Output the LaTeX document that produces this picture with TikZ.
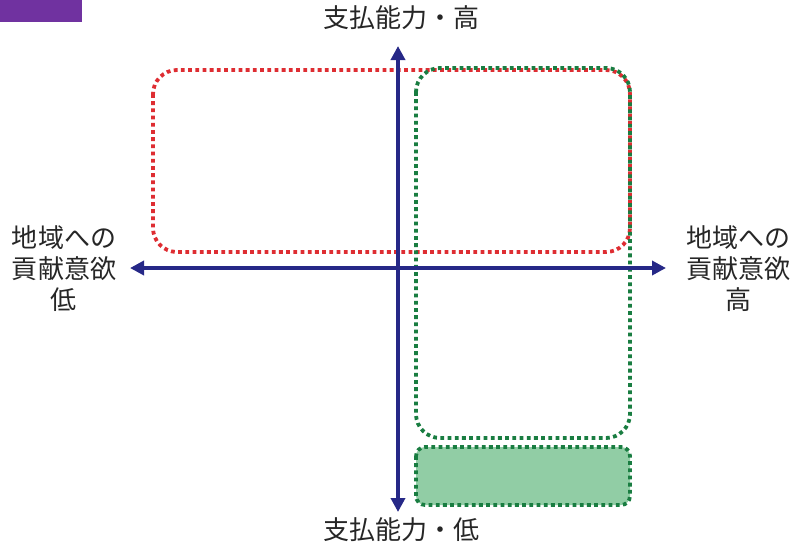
\documentclass[tikz,border=0pt]{standalone}
\usepackage{fontspec}
\newfontfamily\cjk{Noto Sans CJK JP}
\usetikzlibrary{arrows.meta}
\definecolor{axisblue}{RGB}{38,40,135}
\definecolor{dotred}{RGB}{222,45,50}
\definecolor{dotgreen}{RGB}{25,125,65}
\definecolor{fillgreen}{RGB}{145,205,165}
\definecolor{hdrpurple}{RGB}{112,50,160}
\tikzset{
  axis/.style={draw=axisblue, line width=3.5pt, -{Triangle[length=14pt,width=14pt]}},
  redbox/.style={draw=dotred, line width=3.8pt, dash pattern=on 3.8pt off 3.4pt, rounded corners=24pt},
  greenbox/.style={draw=dotgreen, line width=3.8pt, dash pattern=on 3.8pt off 3.4pt, rounded corners=24pt},
  greenfill/.style={draw=dotgreen, fill=fillgreen, line width=3.8pt, dash pattern=on 3.8pt off 3.4pt, rounded corners=9pt},
  lbl/.style={font=\cjk\fontsize{26}{31}\selectfont, text=black!85, align=center, inner sep=0pt},
}
\begin{document}
\begin{tikzpicture}[x=1pt,y=-1pt]
\useasboundingbox (0,0) rectangle (794,547);
\fill[hdrpurple] (0,0) rectangle (82,22);
% boxes
\path[greenfill] (416,447) rectangle (630,505);
\path[redbox] (153,70) rectangle (630,252);
\path[greenbox] (416,68) rectangle (630,438);
% axes
\coordinate (left) at (130,268);
\coordinate (right) at (666,268);
\coordinate (top) at (398,46);
\coordinate (bottom) at (398,512);
\coordinate (origin) at (398,268);
\draw[axis] (origin) -- (right);
\draw[axis] (origin) -- (left);
\draw[axis] (origin) -- (top);
\draw[axis] (origin) -- (bottom);
% labels
\node[lbl] (ttop) at (401,18) {支払能力・高};
\node[lbl] (tbot) at (401,530) {支払能力・低};
\node[lbl] (tleft) at (64,269) {地域への\\貢献意欲\\低};
\node[lbl] (tright) at (738,269) {地域への\\貢献意欲\\高};
\end{tikzpicture}
\end{document}
